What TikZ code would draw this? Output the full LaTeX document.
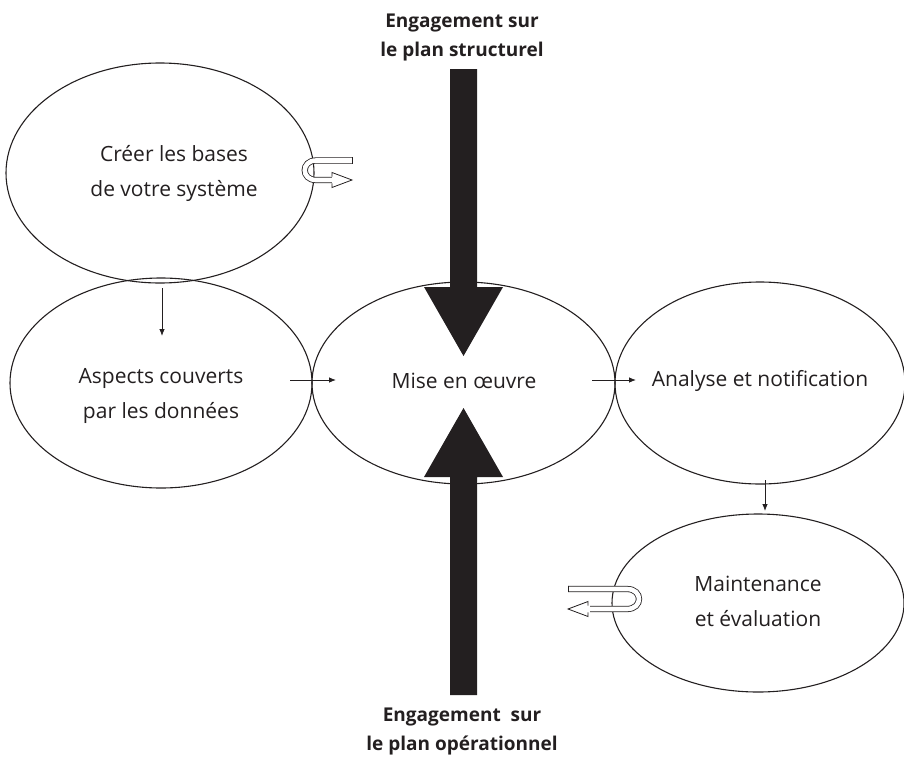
\documentclass[tikz,border=0pt]{standalone}
\usepackage{fontspec}
\setmainfont{Open Sans}
\usetikzlibrary{shapes.geometric,arrows.meta}
\definecolor{ink}{HTML}{231F20}
\tikzset{
  ell/.style={ellipse, draw=ink, line width=1.1pt, inner sep=0pt},
  lbl/.style={font=\fontsize{21}{35}\selectfont, text=ink, align=center},
  blbl/.style={font=\fontsize{19}{29}\selectfont\bfseries, text=ink, align=center},
  thin/.style={draw=ink, line width=0.8pt, -{Latex[length=7pt,width=5.5pt]}},
  big/.style={fill=ink, draw=none},
  band/.style={draw=ink, line width=0.8pt, double=white, double distance=4.6pt},
  edge/.style={draw=ink, line width=0.8pt, line join=miter},
}
\begin{document}
\begin{tikzpicture}[x=1pt,y=-1pt]
\useasboundingbox (0,0) rectangle (904,758);
% ellipses
\node[ell, minimum width=308, minimum height=220] (e1) at (160,173) {};
\node[ell, minimum width=302, minimum height=210] (e2) at (161,383) {};
\node[ell, minimum width=303, minimum height=202] (e3) at (463.5,383) {};
\node[ell, minimum width=290, minimum height=202] (e4) at (760,383) {};
\node[ell, minimum width=292, minimum height=178] (e5) at (758,603) {};
% texts
\node[lbl] (t1) at (174,173) {Créer les bases\\de votre système};
\node[lbl] (t2) at (161,396) {Aspects couverts\\par les données};
\node[lbl] (t3) at (464,381) {Mise en œuvre};
\node[lbl] (t4) at (760,381) {Analyse et notification};
\node[lbl] (t5) at (758,601) {Maintenance\\et évaluation};
\node[blbl] (top) at (462,37) {Engagement sur\\le plan structurel};
\node[blbl] (bot) at (462,731) {Engagement\ \ sur\\le plan opérationnel};
% small connectors
\coordinate (a1s) at (162,288); \coordinate (a1e) at (162,336);
\coordinate (a2s) at (290,380); \coordinate (a2e) at (336,380);
\coordinate (a3s) at (592,380); \coordinate (a3e) at (636,380);
\coordinate (a4s) at (765,480); \coordinate (a4e) at (765,511);
\draw[thin] (a1s) -- (a1e);
\draw[thin] (a2s) -- (a2e);
\draw[thin] (a3s) -- (a3e);
\draw[thin] (a4s) -- (a4e);
% big arrows
\fill[big] (450,69) -- (477,69) -- (477,287) -- (503,287) -- (463.5,356) -- (424,287) -- (450,287) -- cycle;
\fill[big] (450,695) -- (477,695) -- (477,477) -- (503,477) -- (463.5,408) -- (424,477) -- (450,477) -- cycle;
% loop icon top
\draw[band] (352,160.5) -- (316,160.5) .. controls (301,160.5) and (301,180) .. (316,180) -- (336,180);
\draw[edge] (352,157.1) -- (352,163.9);
\fill[white] (332,172.5) -- (352,180) -- (332,187.5) -- cycle;
\draw[edge] (332,176.6) -- (332,172.5) -- (352,180) -- (332,187.5) -- (332,183.4);
% loop icon bottom
\draw[band] (568,589) -- (627,589) .. controls (643,589) and (643,609) .. (627,609) -- (590,609);
\draw[edge] (568,585.6) -- (568,592.4);
\fill[white] (588,601.5) -- (568,609) -- (588,616.5) -- cycle;
\draw[edge] (588,605.6) -- (588,601.5) -- (568,609) -- (588,616.5) -- (588,612.4);
\end{tikzpicture}
\end{document}
